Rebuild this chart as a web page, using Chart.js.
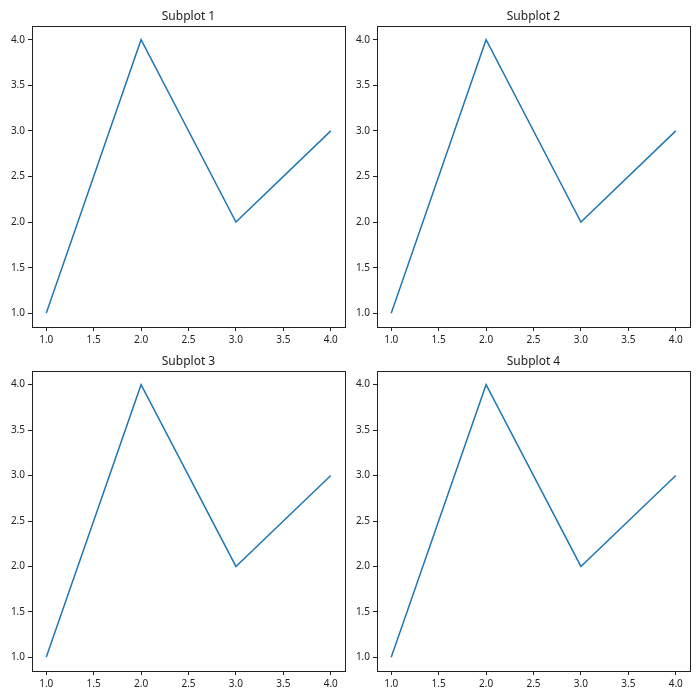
<!DOCTYPE html>
<html>
<head>
<meta charset="utf-8">
<script src="https://cdn.jsdelivr.net/npm/chart.js@4"></script>
<style>
  body{margin:0;background:#fff;}
  #wrap{position:relative;width:700px;height:700px;}
  canvas{position:absolute;}
</style>
</head>
<body>
<div id="wrap">
  <canvas id="c1" width="350" height="350" style="left:0;top:0"></canvas>
  <canvas id="c2" width="350" height="350" style="left:345px;top:0"></canvas>
  <canvas id="c3" width="350" height="350" style="left:0;top:345px"></canvas>
  <canvas id="c4" width="350" height="350" style="left:345px;top:345px"></canvas>
</div>
<script>
const xValues = [1, 2, 3, 4];
const yValues = [1, 4, 2, 3];
const xTicks = [1.0, 1.5, 2.0, 2.5, 3.0, 3.5, 4.0];
const yTicks = [1.0, 1.5, 2.0, 2.5, 3.0, 3.5, 4.0];
const titles = ["Subplot 1", "Subplot 2", "Subplot 3", "Subplot 4"];

const FONT = "'Noto Sans', sans-serif";

// frame + title drawn by hand, like matplotlib axes
const framePlugin = {
  id: "frame",
  afterDraw(chart, args, opts){
    const {ctx, chartArea:a} = chart;
    ctx.save();
    ctx.strokeStyle = "#222";
    ctx.lineWidth = 1;
    ctx.strokeRect(Math.round(a.left)+0.5, Math.round(a.top)+0.5,
                   Math.round(a.right-a.left), Math.round(a.bottom-a.top));
    ctx.fillStyle = "#222";
    ctx.font = "12px " + FONT;
    ctx.textAlign = "center";
    ctx.textBaseline = "alphabetic";
    ctx.fillText(opts.text, (a.left+a.right)/2, a.top-6);
    ctx.restore();
  }
};

function makeChart(id, title, xAxisH){
  const axisStyle = {
    grid:{drawOnChartArea:false, drawTicks:true, tickLength:4, color:"#222"},
    border:{display:false},
    ticks:{color:"#222", font:{family:FONT, size:10}, padding:3,
           callback:v => Number(v).toFixed(1)}
  };
  new Chart(document.getElementById(id).getContext("2d"), {
    type:"line",
    data:{
      datasets:[{
        data:xValues.map((x,i)=>({x:x, y:yValues[i]})),
        borderColor:"#1f77b4",
        borderWidth:1.5,
        pointRadius:0,
        tension:0,
        fill:false
      }]
    },
    options:{
      responsive:false,
      animation:false,
      layout:{padding:{top:26, right:5, left:0, bottom:0}},
      plugins:{legend:{display:false}, tooltip:{enabled:false}, frame:{text:title}},
      scales:{
        x:{
          type:"linear", min:0.85, max:4.15, ...axisStyle,
          ticks:{...axisStyle.ticks, maxRotation:0, autoSkip:false},
          afterBuildTicks:s=>{ s.ticks = xTicks.map(v=>({value:v})); },
          afterFit:s=>{ s.height = xAxisH; }
        },
        y:{
          type:"linear", min:0.85, max:4.15, ...axisStyle,
          ticks:{...axisStyle.ticks, autoSkip:false},
          afterBuildTicks:s=>{ s.ticks = yTicks.map(v=>({value:v})); },
          afterFit:s=>{ s.width = 32; }
        }
      }
    },
    plugins:[framePlugin]
  });
}

makeChart("c1", titles[0], 23);
makeChart("c2", titles[1], 23);
makeChart("c3", titles[2], 24);
makeChart("c4", titles[3], 24);
</script>
</body>
</html>
